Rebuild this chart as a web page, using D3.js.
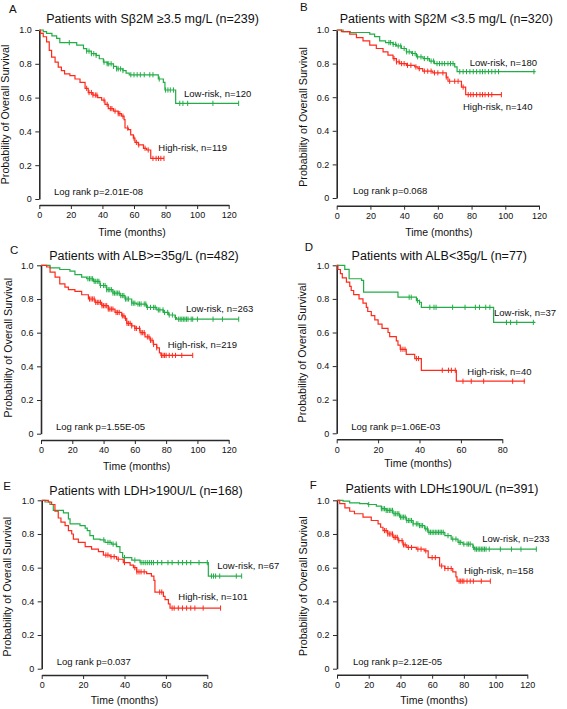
<!DOCTYPE html>
<html>
<head>
<meta charset="utf-8">
<script src="https://cdn.jsdelivr.net/npm/d3@7"></script>
<style>
  html, body { margin: 0; padding: 0; background: #fff; }
  text { font-family: "Liberation Sans", Arial, sans-serif; fill: #111; }
</style>
</head>
<body>
<svg id="chart" width="567" height="709"></svg>
<script>
// ---------------- DATA ----------------
const yTicks = [0, 0.2, 0.4, 0.6, 0.8, 1.0];
const xTicks120 = [0, 20, 40, 60, 80, 100, 120];
const xTicks80 = [0, 20, 40, 60, 80];

const panelLetters = ["A", "B", "C", "D", "E", "F"];
const panelTitles = [
  "Patients with Sβ2M ≥3.5 mg/L (n=239)",
  "Patients with Sβ2M <3.5 mg/L (n=320)",
  "Patients with ALB>=35g/L (n=482)",
  "Patients with ALB<35g/L (n=77)",
  "Patients with LDH>190U/L (n=168)",
  "Patients with LDH≤190U/L (n=391)"
];
const lowLabels = ["Low-risk, n=120", "Low-risk, n=180", "Low-risk, n=263", "Low-risk, n=37", "Low-risk, n=67", "Low-risk, n=233"];
const highLabels = ["High-risk, n=119", "High-risk, n=140", "High-risk, n=219", "High-risk, n=40", "High-risk, n=101", "High-risk, n=158"];
const logRankLabels = ["Log rank p=2.01E-08", "Log rank p=0.068", "Log rank p=1.55E-05", "Log rank p=1.06E-03", "Log rank p=0.037", "Log rank p=2.12E-05"];

// Step points [time (months), survival after the step]; last value = end of follow-up
const aLowSteps = [[0,1],[2.5,0.99],[4.6,0.98],[8,0.965],[11,0.95],[13,0.925],[23.7,0.91],[28,0.89],[30,0.875],[33,0.86],[36,0.85],[38,0.83],[40.6,0.81],[43,0.80],[47,0.785],[49,0.77],[53,0.76],[55,0.745],[57,0.735],[75.4,0.71],[78.6,0.69],[79.6,0.645],[86.4,0.566]];
const aLowEnd = 126.3;
const aLowCensor = [19,30,31.5,33,34.5,36,41,43,44,45.5,47,49,50,51.5,53,58,60,62,64,66.5,70,72,76,80,81.5,83,85,89,91,94,110,126.3];
const aHighSteps = [[0,1],[0.8,0.98],[2.5,0.96],[4.6,0.93],[6.3,0.88],[7.8,0.84],[10,0.81],[12,0.78],[14,0.76],[16,0.74],[19.4,0.73],[22.6,0.71],[25.8,0.69],[29,0.655],[31,0.63],[34,0.615],[37,0.60],[39.5,0.585],[41.6,0.56],[43.7,0.535],[47,0.52],[50,0.505],[52,0.49],[53.7,0.47],[54.3,0.42],[56.4,0.41],[57.9,0.38],[59.6,0.36],[60.6,0.335],[62.7,0.32],[66,0.30],[68,0.29],[70.6,0.24]];
const aHighEnd = 79;
const aHighCensor = [30,31.5,33,34,35.5,36.5,41,43,45,46,48,50,51,53,56,60,61.5,63,67,69,72,74,75.5,77,79];

const bLowSteps = [[0,1],[3.8,0.99],[8,0.985],[19.6,0.975],[22.5,0.96],[25.5,0.935],[29,0.925],[33.4,0.915],[35.4,0.905],[38.4,0.89],[41.3,0.87],[44.3,0.86],[47.3,0.84],[51.2,0.83],[55,0.815],[58,0.80],[70,0.78],[71.4,0.752]];
const bLowEnd = 118;
const bLowCensor = [31,32,33.5,35,36.5,38,40,41.5,43,45,46.5,48,50,52,54,56,57.5,59.5,61,62.5,64,66,67.5,69,73,75,77,79,81,83,85,86.5,88,90,92,94,96,117];
const bHighSteps = [[0,1],[2.8,0.99],[7.7,0.975],[11.7,0.955],[15.6,0.935],[19.6,0.91],[23.5,0.89],[27.5,0.87],[30.4,0.85],[33.4,0.83],[35.4,0.81],[37.4,0.80],[41.3,0.79],[46.3,0.78],[48.2,0.77],[51,0.755],[57,0.745],[65,0.72],[66,0.695],[74,0.66],[76.5,0.615]];
const bHighEnd = 97.7;
const bHighCensor = [34,35.5,37,38.5,40,42,44,47,49,52,54,56,58,60,63,65,67,70,72,75,78,79.5,81,83,85,86.5,88,90,92,97.7];

const cLowSteps = [[0,1],[5.8,0.985],[12,0.975],[18.5,0.965],[21.7,0.945],[26,0.93],[29.2,0.92],[33.5,0.905],[37.7,0.88],[42,0.855],[46,0.835],[50.5,0.82],[53.7,0.80],[58,0.775],[61,0.77],[67.5,0.75],[74,0.735],[78.2,0.72],[81.4,0.705],[85.7,0.69],[86.7,0.68]];
const cLowEnd = 126.4;
const cLowCensor = [30,31,32,33,34,35,36,37,38,40,41,42,43,44,45,46,47,48,49,50,51,52,53,54,55,56,58,59,60,62,63,64,66,67,68,70,72,73,75,76,78,79,81,82,84,86,88,89,90,91,92,93,94,96,97,100,110,116,126.4];
const cHighSteps = [[0,1],[3.6,0.99],[5.8,0.96],[9,0.93],[12,0.89],[15.3,0.87],[17.5,0.855],[21.7,0.845],[26,0.825],[30.3,0.80],[34.5,0.78],[38.8,0.76],[43,0.74],[47.3,0.72],[51.6,0.70],[53.7,0.685],[54.8,0.655],[58,0.64],[60,0.625],[63.3,0.60],[66.5,0.575],[69.7,0.555],[71.8,0.53],[74,0.51],[75.7,0.48],[76.7,0.465]];
const cHighEnd = 97;
const cHighCensor = [31,32,33,34,35,36,37,38,39,40,41,42,43,44,45,46,48,49,50,52,53,54,55,56,57,58,60,61,63,64,65,66,68,69,70,71,72,74,77,78,79,80,82,84,86,90,97];

const dLowSteps = [[0,1],[3.9,0.976],[6,0.92],[12,0.91],[13,0.84],[29.6,0.81],[38.5,0.79],[40,0.78],[40.9,0.75],[75.8,0.66]];
const dLowEnd = 96;
const dLowCensor = [35,36,39,40,45,47,48,56,62,67,69,72,74,82,84,87,95];
const dHighSteps = [[0,1],[0.6,0.975],[1.8,0.95],[2.7,0.925],[4.7,0.90],[6.3,0.875],[7,0.85],[8.2,0.825],[10.8,0.80],[12.7,0.775],[14.3,0.75],[15,0.725],[16.7,0.70],[18.4,0.675],[20,0.65],[21.9,0.625],[24.8,0.60],[25.6,0.575],[28.8,0.55],[29.6,0.525],[30.7,0.50],[33.6,0.47],[37.7,0.445],[40.9,0.375],[57.8,0.31]];
const dHighEnd = 91;
const dHighCensor = [31,32,33,38.5,39.5,51,54,55.4,57.3,61,65,71,85,90.6];

const eLowSteps = [[0,1],[1.6,0.99],[4,0.975],[5.6,0.94],[10.5,0.925],[12.9,0.89],[13.7,0.86],[18.5,0.85],[21,0.835],[22,0.82],[23.3,0.79],[25,0.77],[28.2,0.765],[30.6,0.75],[33.8,0.74],[36.2,0.725],[37.8,0.69],[39.1,0.66],[43.5,0.645],[47.5,0.63],[80.5,0.55]];
const eLowEnd = 96.6;
const eLowCensor = [30,32,33,34.5,36,40,45,48,49,50,51,52,53,54,56,58,61,63,66,68,70,72,76,80,82,83,84,86,94,96.6];
const eHighSteps = [[0,1],[3.2,0.99],[4.8,0.975],[6.4,0.935],[8,0.895],[9.3,0.87],[11.3,0.85],[12.9,0.82],[14.5,0.80],[15.3,0.77],[17.7,0.75],[21,0.725],[24.1,0.71],[27.4,0.695],[29.8,0.675],[33,0.665],[36.2,0.65],[39.4,0.63],[42.7,0.615],[44.3,0.60],[45.9,0.575],[50.7,0.565],[53,0.55],[54.2,0.525],[54.7,0.455],[58.8,0.43],[59.6,0.41],[61.2,0.385],[62,0.36]];
const eHighEnd = 86.4;
const eHighCensor = [31,32,33.5,35,37,40,45,46,47,48,49.5,57,58,63,64,66,68,70,72,74,78,86.4];

const fLowSteps = [[0,1],[3.8,0.995],[8,0.985],[14.3,0.98],[19.5,0.975],[24.8,0.965],[28,0.95],[31,0.94],[35.3,0.92],[39.5,0.90],[43.7,0.88],[48,0.86],[52,0.85],[55.3,0.83],[57.4,0.81],[68,0.79],[72,0.77],[76.3,0.75],[79.4,0.74],[85.7,0.72],[86.8,0.71]];
const fLowEnd = 125.7;
const fLowCensor = [20,28,29,30,31,32,33,34,35,36,37,38,39,40,41,42,43,44,45,46,47,48,50,51,52,53,54,56,57,58,59,60,61,62,63,64,65,66,67,70,73,75,77,78,80,82,83,84,86,87,88,89,90,91,92,93,94,96,103,110,116,125.7];
const fHighSteps = [[0,1],[1.7,0.98],[5,0.955],[8,0.935],[11,0.92],[16.4,0.90],[21.6,0.88],[25.9,0.86],[27.5,0.84],[29,0.82],[32,0.80],[35.3,0.78],[38.5,0.76],[41.6,0.735],[44,0.72],[50,0.71],[55,0.70],[57.5,0.66],[64.7,0.61],[68,0.595],[73,0.575],[75,0.545],[75.7,0.52]];
const fHighEnd = 96.7;
const fHighCensor = [30,31,32,33,34,35,36,37,38,39,41,42,43,45,47,51,53,56,60,62,66,68,70,72,77,78,79,80,82,84,86,91,96.7];

// ---------------- LAYOUT ----------------
const GREEN = "#22ad47";
const RED = "#ff2a1c";
const AXIS = "#2a2a2a";

const layouts = [
  {x0:39.3, x1:228.7, xmax:120, y0:199, y1:30, axY:205, letter:[9,13], title:[152.5,22.7], yt:[8.5,114.5], xt:[132,236], low:[184,96.7], high:[158.3,151], lr:[54,195]},
  {x0:336.7, x1:539, xmax:120, y0:198, y1:30, axY:205.7, letter:[300,10.5], title:[446.3,23], yt:[307,117], xt:[438.8,236], low:[469.7,65.7], high:[463,110], lr:[353,194]},
  {x0:41, x1:228.7, xmax:120, y0:433.7, y1:265.3, axY:440, letter:[10,254.3], title:[144,260], yt:[11.5,347.7], xt:[136.7,470], low:[186,311.7], high:[167.7,348.3], lr:[56,430.3]},
  {x0:336.7, x1:502.3, xmax:80, y0:433.3, y1:265.3, axY:439.3, letter:[304.7,251], title:[439.3,260.3], yt:[305.5,352.7], xt:[418,467], low:[494,316], high:[467.3,375.3], lr:[351.3,430.3]},
  {x0:41.7, x1:207.3, xmax:80, y0:668.7, y1:500.3, axY:675, letter:[3.3,490.3], title:[146,494.7], yt:[11,586.7], xt:[124.5,704], low:[217.3,569.3], high:[178.3,600.3], lr:[56.7,665.3]},
  {x0:337, x1:527.3, xmax:120, y0:668.7, y1:500.3, axY:674.7, letter:[309.7,488.7], title:[442,492.7], yt:[306.5,586.2], xt:[434,703.7], low:[482.3,542], high:[464,573.7], lr:[353,665.3]}
];

const curves = [
  {low:{steps:aLowSteps,end:aLowEnd,censor:aLowCensor}, high:{steps:aHighSteps,end:aHighEnd,censor:aHighCensor}},
  {low:{steps:bLowSteps,end:bLowEnd,censor:bLowCensor}, high:{steps:bHighSteps,end:bHighEnd,censor:bHighCensor}},
  {low:{steps:cLowSteps,end:cLowEnd,censor:cLowCensor}, high:{steps:cHighSteps,end:cHighEnd,censor:cHighCensor}},
  {low:{steps:dLowSteps,end:dLowEnd,censor:dLowCensor}, high:{steps:dHighSteps,end:dHighEnd,censor:dHighCensor}},
  {low:{steps:eLowSteps,end:eLowEnd,censor:eLowCensor}, high:{steps:eHighSteps,end:eHighEnd,censor:eHighCensor}},
  {low:{steps:fLowSteps,end:fLowEnd,censor:fLowCensor}, high:{steps:fHighSteps,end:fHighEnd,censor:fHighCensor}}
];

// ---------------- DRAW ----------------
const svg = d3.select("#chart");
svg.append("rect").attr("width", 567).attr("height", 709).attr("fill", "#fff");

function survAt(steps, t) {
  let s = 1;
  for (const [st, sv] of steps) { if (st <= t) s = sv; else break; }
  return s;
}

layouts.forEach((L, i) => {
  const g = svg.append("g");
  const x = d3.scaleLinear().domain([0, L.xmax]).range([L.x0, L.x1]);
  const y = d3.scaleLinear().domain([0, 1]).range([L.y0, L.y1]);

  // Y axis
  const yAx = g.append("g").attr("transform", `translate(${L.x0},0)`)
    .call(d3.axisLeft(y).tickValues(yTicks).tickFormat(d => d === 0 ? "0" : d3.format(".1f")(d))
      .tickSize(4).tickSizeOuter(0).tickPadding(3.5));
  // X axis
  const xAx = g.append("g").attr("transform", `translate(0,${L.axY})`)
    .call(d3.axisBottom(x).tickValues(L.xmax === 120 ? xTicks120 : xTicks80)
      .tickSize(4).tickSizeOuter(0).tickPadding(3));
  [yAx, xAx].forEach(a => {
    a.select(".domain").attr("stroke", AXIS).attr("stroke-width", 1.6);
    a.selectAll(".tick line").attr("stroke", AXIS).attr("stroke-width", 1);
    a.selectAll(".tick text").style("font-size", "9px").style("font-family", "'Liberation Sans', Arial, sans-serif").attr("fill", "#222");
  });

  // curves
  const line = d3.line().x(d => x(d[0])).y(d => y(d[1])).curve(d3.curveStepAfter);
  [["low", GREEN], ["high", RED]].forEach(([k, col]) => {
    const c = curves[i][k];
    const pts = c.steps.concat([[c.end, c.steps[c.steps.length - 1][1]]]);
    g.append("path").attr("d", line(pts)).attr("fill", "none")
      .attr("stroke", col).attr("stroke-width", 1.2);
    g.selectAll(null).data(c.censor).enter().append("line")
      .attr("x1", d => x(d)).attr("x2", d => x(d))
      .attr("y1", d => y(survAt(c.steps, d)) - 2.6)
      .attr("y2", d => y(survAt(c.steps, d)) + 2.6)
      .attr("stroke", col).attr("stroke-width", 1);
  });

  // texts
  g.append("text").attr("x", L.letter[0]).attr("y", L.letter[1]).style("font-size", "11.5px").text(panelLetters[i]);
  g.append("text").attr("x", L.title[0]).attr("y", L.title[1]).attr("text-anchor", "middle").style("font-size", "12.5px").text(panelTitles[i]);
  g.append("text").attr("transform", `translate(${L.yt[0]},${L.yt[1]}) rotate(-90)`).attr("text-anchor", "middle")
    .style("font-size", "10.7px").text("Probability of Overall Survival");
  g.append("text").attr("x", L.xt[0]).attr("y", L.xt[1]).attr("text-anchor", "middle").style("font-size", "10.5px").text("Time (months)");
  g.append("text").attr("x", L.low[0]).attr("y", L.low[1]).style("font-size", "9.5px").text(lowLabels[i]);
  g.append("text").attr("x", L.high[0]).attr("y", L.high[1]).style("font-size", "9.5px").text(highLabels[i]);
  g.append("text").attr("x", L.lr[0]).attr("y", L.lr[1]).style("font-size", "9.5px").text(logRankLabels[i]);
});
</script>
</body>
</html>
